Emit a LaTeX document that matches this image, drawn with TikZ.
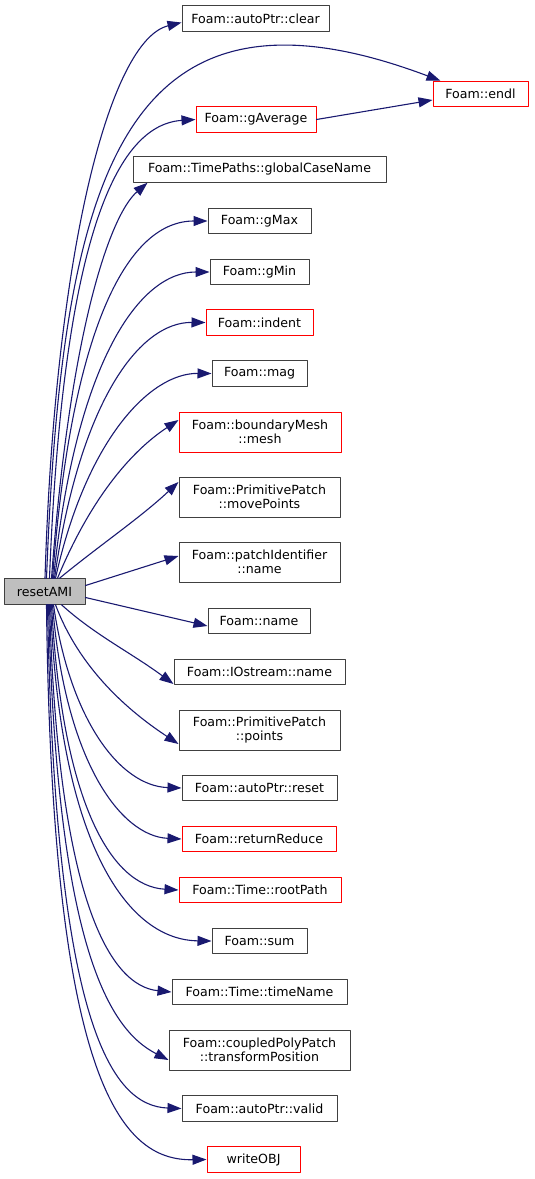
\documentclass[tikz,border=0pt]{standalone}
\usepackage{fontspec}
\setmainfont{DejaVu Sans}
\usetikzlibrary{arrows.meta}
\definecolor{edgeblue}{HTML}{191970}
\definecolor{boxred}{HTML}{FF0000}
\definecolor{boxgrey}{HTML}{BFBFBF}
\begin{document}
\begin{tikzpicture}[x=1pt, y=-1pt, line cap=round, line join=round,
  every node/.style={font=\fontsize{12.6}{14.5}\selectfont, inner sep=0pt, align=center},
  fn/.style={draw=black!75, line width=1pt, minimum height=25.5pt, fill=white},
  fnred/.style={fn, draw=boxred},
  fncur/.style={fn, fill=boxgrey},
  twoline/.style={minimum height=40pt},
  call/.style={draw=edgeblue, line width=1.1pt, -{Triangle[length=14pt,width=10pt]}}]
  \useasboundingbox (0,0) rectangle (535,1179);
  % the function itself
  \node[fncur, minimum width=81pt] (reset) at (44.5,591.5) {resetAMI};
  % callees, top to bottom
  \node[fn, minimum width=147pt] (clear) at (255.5,18.5) {Foam::autoPtr::clear};
  \node[fnred, minimum width=95pt] (endl) at (480.5,94) {Foam::endl};
  \node[fnred, minimum width=120pt] (gaverage) at (256,119.5) {Foam::gAverage};
  \node[fn, minimum width=253pt] (casename) at (259.5,169.5) {Foam::TimePaths::globalCaseName};
  \node[fn, minimum width=103pt] (gmax) at (259.5,221) {Foam::gMax};
  \node[fn, minimum width=99pt] (gmin) at (259.5,272) {Foam::gMin};
  \node[fnred, minimum width=107pt] (indent) at (259.5,322.5) {Foam::indent};
  \node[fn, minimum width=95pt] (mag) at (259.5,373.5) {Foam::mag};
  \node[fnred, twoline, minimum width=162pt] (mesh) at (260,432) {Foam::boundaryMesh\\::mesh};
  \node[fn, twoline, minimum width=161pt] (movepts) at (259.5,497) {Foam::PrimitivePatch\\::movePoints};
  \node[fn, twoline, minimum width=161pt] (pidname) at (259.5,562) {Foam::patchIdentifier\\::name};
  \node[fn, minimum width=102pt] (name) at (259,621) {Foam::name};
  \node[fn, minimum width=171pt] (ioname) at (259.5,672) {Foam::IOstream::name};
  \node[fn, twoline, minimum width=161pt] (points) at (259.5,730) {Foam::PrimitivePatch\\::points};
  \node[fn, minimum width=155pt] (ptrreset) at (259.5,788) {Foam::autoPtr::reset};
  \node[fnred, minimum width=154pt] (retreduce) at (259,839) {Foam::returnReduce};
  \node[fnred, minimum width=162pt] (rootpath) at (260,890) {Foam::Time::rootPath};
  \node[fn, minimum width=95pt] (sum) at (259.5,941) {Foam::sum};
  \node[fn, minimum width=175pt] (timename) at (259.5,992) {Foam::Time::timeName};
  \node[fn, twoline, minimum width=181pt] (transpos) at (259.5,1050) {Foam::coupledPolyPatch\\::transformPosition};
  \node[fn, minimum width=155pt] (valid) at (259.5,1108.5) {Foam::autoPtr::valid};
  \node[fnred, minimum width=93pt] (writeobj) at (253.5,1159.5) {writeOBJ};
  % calls leaving the top of resetAMI
  \draw[call] ([xshift=0.5pt]reset.north) .. controls (55,250) and (110,40) .. ([yshift=-4pt]clear.west);
  \draw[call] ([xshift=2pt]reset.north) .. controls (62,180) and (120,-40) .. ([xshift=-40pt]endl.north);
  \draw[call] ([xshift=5pt]reset.north) .. controls (62,260) and (110,125) .. (gaverage.west);
  \draw[call] ([xshift=7pt]reset.north) .. controls (70,330) and (110,215) .. ([xshift=-112pt]casename.south);
  \draw[call] ([xshift=8pt]reset.north) .. controls (72,320) and (130,221) .. (gmax.west);
  \draw[call] ([xshift=9pt]reset.north) .. controls (76,360) and (140,272) .. (gmin.west);
  \draw[call] ([xshift=10pt]reset.north) .. controls (80,400) and (140,322) .. (indent.west);
  \draw[call] ([xshift=11pt]reset.north) .. controls (86,440) and (150,373) .. (mag.west);
  \draw[call] ([xshift=13pt]reset.north) .. controls (90,500) and (130,452) .. ([yshift=12pt]mesh.west);
  \draw[call] ([xshift=15pt]reset.north) .. controls (100,545) and (140,518) .. ([yshift=15pt]movepts.west);
  \draw[call] ([yshift=6pt]reset.east) -- ([yshift=6pt]pidname.west);
  \draw[call] ([yshift=-6pt]reset.east) -- ([yshift=-5pt]name.west);
  % calls leaving the bottom of resetAMI
  \draw[call] ([xshift=17pt]reset.south) .. controls (95,635) and (130,652) .. ([yshift=-12pt]ioname.west);
  \draw[call] ([xshift=11pt]reset.south) .. controls (80,670) and (130,712) .. ([yshift=-14pt]points.west);
  \draw[call] ([xshift=9pt]reset.south) .. controls (70,720) and (120,786) .. (ptrreset.west);
  \draw[call] ([xshift=8pt]reset.south) .. controls (65,760) and (120,836) .. (retreduce.west);
  \draw[call] ([xshift=7pt]reset.south) .. controls (62,800) and (110,886) .. (rootpath.west);
  \draw[call] ([xshift=6pt]reset.south) .. controls (60,850) and (130,940) .. (sum.west);
  \draw[call] ([xshift=5pt]reset.south) .. controls (58,900) and (110,986) .. (timename.west);
  \draw[call] ([xshift=4pt]reset.south) .. controls (57,950) and (110,1030) .. ([yshift=-10pt]transpos.west);
  \draw[call] ([xshift=3pt]reset.south) .. controls (55,1020) and (110,1106) .. (valid.west);
  \draw[call] ([xshift=2pt]reset.south) .. controls (52,1080) and (120,1161) .. (writeobj.west);
  % callee calling endl
  \draw[call] (gaverage.east) -- ([yshift=-6pt]endl.west);
\end{tikzpicture}
\end{document}
